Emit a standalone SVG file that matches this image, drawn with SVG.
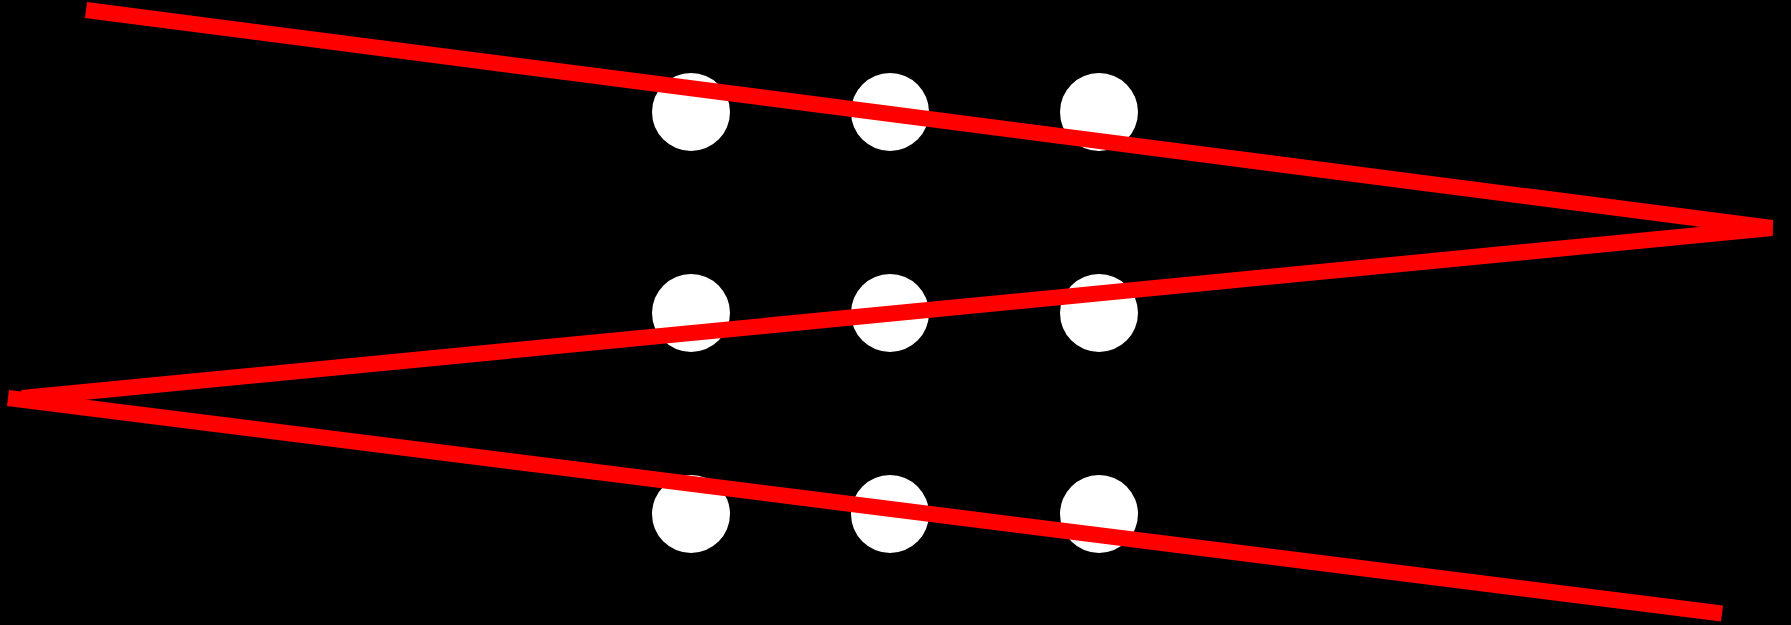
<svg xmlns="http://www.w3.org/2000/svg" width="1791" height="625" viewBox="0 0 1791 625">
  <style>
    .dot { fill: #ffffff; }
    .zig { fill: none; stroke: #ff0000; stroke-width: 16; stroke-linejoin: bevel; stroke-linecap: butt; }
  </style>
  <rect x="0" y="0" width="1791" height="625" fill="#000000"/>
  <g id="nodes">
    <g id="n11"><circle class="dot" cx="691" cy="112" r="39"/></g>
    <g id="n12"><circle class="dot" cx="890" cy="112" r="39"/></g>
    <g id="n13"><circle class="dot" cx="1099" cy="112" r="39"/></g>
    <g id="n21"><circle class="dot" cx="691" cy="313" r="39"/></g>
    <g id="n22"><circle class="dot" cx="890" cy="313" r="39"/></g>
    <g id="n23"><circle class="dot" cx="1099" cy="313" r="39"/></g>
    <g id="n31"><circle class="dot" cx="691" cy="514" r="39"/></g>
    <g id="n32"><circle class="dot" cx="890" cy="514" r="39"/></g>
    <g id="n33"><circle class="dot" cx="1099" cy="514" r="39"/></g>
  </g>
  <g id="connectors">
    <path class="zig" d="M86,10 L1772,228 L22,398"/>
    <path class="zig" d="M8,398 L1722,613.5"/>
  </g>
</svg>
